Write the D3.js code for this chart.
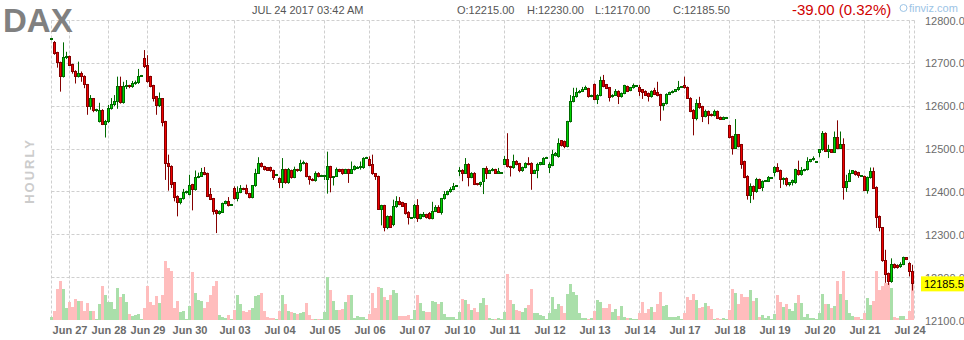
<!DOCTYPE html>
<html><head><meta charset="utf-8">
<script src="https://cdn.jsdelivr.net/npm/d3@7"></script>
<style>body{margin:0;background:#fff}svg{display:block}text{font-family:"Liberation Sans",Arial,sans-serif}</style>
</head><body><svg id="c" width="964" height="340"></svg>
<script>
const dayLabels = ["Jun 27","Jun 28","Jun 29","Jun 30","Jul 03","Jul 04","Jul 05","Jul 06","Jul 07","Jul 10","Jul 11","Jul 12","Jul 13","Jul 14","Jul 17","Jul 18","Jul 19","Jul 20","Jul 21","Jul 24"];
const dayStarts = [6,19,32,46,61,76,91,106,121,136,151,166,181,196,211,226,241,256,271,286];
const priceTicks = [12800,12700,12600,12500,12400,12300,12200,12100];
const lastPrice = 12185.5;
const header = {date:"JUL 24 2017 03:42 AM", o:"O:12215.00", h:"H:12230.00", l:"L:12170.00", c:"C:12185.50", chg:"-39.00 (0.32%)"};

const opens = [
12756,12748,12725,12702,12669,12714,12716,12697,12682,12669,
12677,12670,12650,12600,12617,12590,12565,12591,12558,12564,
12595,12603,12611,12647,12609,12646,12648,12645,12653,12655,
12670,12712,12696,12669,12648,12622,12601,12617,12564,12467,
12460,12421,12390,12376,12384,12398,12394,12417,12405,12434,
12437,12446,12443,12394,12384,12357,12349,12353,12373,12377,
12369,12408,12384,12399,12408,12408,12396,12387,12414,12444,
12467,12459,12456,12456,12450,12440,12432,12421,12452,12421,
12450,12434,12452,12449,12467,12467,12436,12430,12426,12444,
12437,12437,12428,12459,12433,12437,12452,12452,12444,12452,
12444,12452,12457,12458,12456,12480,12475,12465,12442,12436,
12360,12368,12316,12343,12324,12365,12377,12375,12372,12353,
12339,12340,12369,12338,12343,12347,12349,12338,12355,12364,
12351,12384,12394,12400,12406,12414,12448,12451,12444,12463,
12434,12444,12419,12417,12425,12454,12444,12450,12452,12444,
12444,12465,12475,12459,12456,12472,12466,12449,12457,12467,
12467,12444,12450,12464,12465,12480,12457,12462,12485,12482,
12519,12518,12506,12564,12611,12622,12632,12635,12640,12641,
12623,12651,12616,12625,12659,12650,12643,12622,12626,12635,
12622,12630,12646,12637,12643,12647,12643,12638,12635,12630,
12622,12637,12633,12627,12601,12606,12628,12632,12635,12638,
12645,12648,12644,12619,12591,12572,12607,12599,12576,12588,
12581,12578,12588,12574,12570,12573,12555,12529,12502,12533,
12510,12471,12437,12392,12413,12400,12429,12411,12424,12425,
12432,12446,12458,12450,12428,12432,12417,12421,12421,12450,
12440,12450,12452,12471,12475,12469,12491,12498,12537,12495,
12498,12493,12526,12502,12510,12410,12425,12444,12448,12445,
12437,12436,12404,12433,12448,12411,12343,12316,12240,12210,
12190,12231,12229,12225,12231,12246,12234,12215];
const highs = [
12759,12752,12727,12704,12749,12727,12718,12699,12684,12704,
12681,12672,12652,12626,12619,12594,12608,12593,12568,12603,
12619,12626,12669,12669,12657,12661,12650,12659,12660,12687,
12673,12731,12719,12671,12650,12624,12632,12619,12566,12487,
12462,12423,12392,12386,12407,12403,12440,12419,12450,12445,
12456,12458,12445,12409,12386,12359,12357,12375,12380,12388,
12372,12413,12413,12416,12410,12417,12398,12416,12454,12481,
12469,12461,12458,12459,12452,12442,12434,12479,12454,12456,
12452,12459,12454,12475,12473,12469,12438,12432,12448,12446,
12440,12440,12494,12461,12437,12457,12454,12454,12454,12454,
12471,12462,12460,12471,12481,12482,12483,12487,12444,12438,
12370,12370,12345,12345,12382,12390,12388,12377,12374,12355,
12341,12372,12383,12349,12353,12349,12353,12377,12369,12369,
12386,12402,12403,12411,12421,12416,12458,12453,12479,12467,
12446,12446,12421,12424,12456,12460,12452,12456,12454,12456,
12446,12484,12537,12461,12487,12474,12468,12459,12469,12481,
12469,12452,12468,12470,12481,12482,12469,12498,12493,12525,
12521,12520,12566,12626,12643,12643,12638,12645,12648,12643,
12627,12653,12628,12669,12673,12652,12645,12628,12640,12637,
12632,12650,12648,12645,12653,12649,12650,12640,12637,12632,
12637,12643,12657,12629,12608,12630,12634,12637,12640,12659,
12647,12669,12646,12621,12593,12616,12622,12601,12592,12590,
12583,12592,12590,12576,12576,12575,12557,12531,12570,12535,
12512,12473,12439,12420,12415,12433,12431,12427,12427,12437,
12434,12460,12467,12452,12434,12434,12423,12429,12454,12473,
12458,12454,12481,12477,12483,12471,12500,12542,12539,12510,
12500,12541,12567,12541,12525,12440,12452,12451,12450,12447,
12439,12438,12436,12457,12457,12413,12345,12318,12265,12212,
12245,12233,12231,12236,12249,12248,12236,12230];
const lows = [
12754,12720,12690,12634,12667,12710,12694,12676,12653,12667,
12657,12642,12580,12592,12586,12587,12562,12556,12527,12561,
12592,12600,12594,12606,12606,12640,12642,12643,12650,12652,
12669,12689,12655,12644,12611,12580,12598,12553,12428,12403,
12409,12378,12343,12371,12382,12396,12392,12357,12403,12432,
12435,12439,12388,12381,12347,12304,12347,12351,12371,12366,
12368,12382,12378,12397,12404,12394,12385,12385,12412,12442,
12457,12450,12449,12447,12428,12439,12409,12409,12419,12419,
12431,12432,12447,12447,12464,12434,12417,12425,12424,12434,
12436,12428,12396,12399,12415,12435,12446,12440,12442,12421,
12442,12450,12455,12452,12454,12479,12460,12440,12428,12358,
12322,12308,12313,12316,12320,12363,12369,12365,12347,12324,
12338,12338,12330,12336,12341,12338,12336,12336,12353,12351,
12347,12382,12392,12398,12404,12413,12437,12425,12442,12413,
12432,12416,12415,12412,12395,12430,12442,12448,12442,12442,
12443,12463,12457,12436,12454,12462,12446,12447,12455,12462,
12405,12442,12432,12462,12463,12479,12444,12460,12483,12480,
12506,12502,12504,12562,12609,12620,12630,12633,12638,12620,
12621,12614,12605,12623,12644,12640,12611,12620,12624,12605,
12620,12628,12633,12635,12641,12646,12624,12617,12624,12611,
12620,12626,12623,12566,12590,12604,12626,12630,12633,12636,
12644,12641,12617,12586,12532,12567,12594,12563,12574,12558,
12576,12576,12570,12568,12568,12572,12525,12487,12500,12504,
12454,12432,12382,12374,12382,12398,12407,12402,12423,12423,
12431,12436,12446,12409,12417,12413,12413,12415,12419,12438,
12438,12448,12450,12469,12473,12468,12481,12496,12493,12479,
12491,12491,12500,12500,12382,12400,12423,12442,12438,12433,
12436,12402,12396,12431,12407,12316,12308,12237,12188,12183,
12188,12221,12221,12223,12229,12241,12203,12170];
const closes = [
12758,12723,12702,12669,12714,12716,12696,12681,12669,12677,
12669,12650,12600,12617,12590,12592,12591,12558,12564,12595,
12603,12611,12647,12609,12647,12648,12645,12653,12656,12669,
12672,12692,12657,12646,12619,12601,12617,12563,12466,12460,
12417,12388,12376,12384,12398,12401,12415,12405,12434,12437,
12446,12441,12390,12383,12355,12349,12355,12373,12377,12368,
12371,12384,12399,12408,12406,12396,12387,12414,12444,12467,
12459,12452,12451,12449,12434,12441,12421,12452,12421,12452,
12434,12452,12449,12467,12468,12436,12430,12427,12444,12436,
12438,12439,12459,12433,12437,12452,12447,12444,12452,12444,
12452,12459,12458,12460,12477,12481,12462,12442,12436,12360,
12368,12316,12343,12318,12365,12377,12371,12367,12349,12340,
12340,12369,12338,12347,12347,12340,12338,12355,12364,12353,
12384,12394,12400,12406,12413,12415,12450,12444,12463,12434,
12444,12418,12417,12421,12454,12444,12450,12452,12444,12447,
12445,12475,12459,12456,12471,12464,12449,12457,12467,12464,
12444,12450,12464,12468,12477,12481,12465,12487,12490,12513,
12508,12506,12564,12611,12622,12632,12635,12640,12643,12622,
12625,12616,12625,12659,12646,12642,12620,12626,12635,12622,
12630,12648,12635,12643,12648,12648,12634,12632,12626,12622,
12635,12628,12625,12601,12606,12628,12632,12635,12638,12643,
12646,12643,12619,12588,12572,12606,12596,12576,12588,12578,
12578,12588,12572,12570,12573,12574,12527,12502,12533,12506,
12465,12434,12392,12413,12400,12429,12409,12425,12426,12433,
12433,12458,12448,12428,12432,12417,12421,12427,12452,12440,
12450,12452,12471,12475,12479,12470,12498,12537,12495,12498,
12493,12526,12502,12510,12410,12425,12444,12449,12440,12438,
12438,12404,12433,12448,12409,12341,12316,12239,12208,12190,
12231,12223,12223,12231,12246,12243,12215,12185.5];
// hourly volume, thousands of contracts
const volumes = [
3,9,31,39,31,12,18,13,21,19,
19,9,17,9,9,1,16,34,25,18,
18,11,32,23,26,18,6,4,5,6,
1,12,34,18,15,24,17,25,59,52,
49,12,19,8,9,1,14,48,27,20,
19,12,18,25,34,39,5,3,2,5,
1,10,25,16,9,8,10,12,24,25,
27,9,3,2,2,1,9,25,16,9,
8,7,6,7,8,17,5,1,1,1,
1,8,43,30,19,10,10,11,18,25,
25,2,4,3,3,1,6,27,12,33,
32,23,20,25,30,27,4,4,4,5,
1,10,25,17,9,8,8,19,18,16,
18,6,3,3,3,1,8,21,20,16,
10,12,8,17,22,15,2,1,1,2,
1,8,46,20,16,10,9,8,12,15,
31,7,7,5,4,1,7,23,11,16,
14,7,26,36,28,25,7,2,2,1,
2,9,20,18,12,12,16,8,11,4,
14,3,2,2,1,1,7,18,7,11,
13,8,16,28,14,15,3,3,3,4,
1,7,23,20,26,20,12,13,17,14,
11,1,2,1,2,1,10,31,27,16,
26,23,23,30,19,22,3,5,2,4,
1,6,25,18,13,16,11,9,17,25,
17,3,6,2,2,1,7,26,16,16,
12,14,39,26,49,20,7,4,3,3,
1,7,22,15,19,49,30,34,37,37,
32,3,2,4,4,1,9,47];

const candles = opens.map((o,i)=>({i, o, h:highs[i], l:lows[i], c:closes[i], v:volumes[i]}));

const svg = d3.select("#c");
const FONT = '"Liberation Sans",Arial,sans-serif';
const x = d3.scaleLinear().domain([0,286]).range([51.5,909.5]);
const y = d3.scaleLinear().domain([12100,12800]).range([320.5,20.5]);
const yv = d3.scaleLinear().domain([0,60]).range([320,260]);
const plotL = 51.5, plotR = 914.5, plotT = 20.5, plotB = 320;
const snap = v => Math.round(v - 0.5) + 0.5;

// grid
const grid = svg.append("g").attr("stroke","#cfcfcf").attr("stroke-width",1).attr("stroke-dasharray","3,2").attr("fill","none");
priceTicks.filter(t=>t>12100).forEach(t=>{
  grid.append("line").attr("x1",plotL).attr("x2",plotR).attr("y1",snap(y(t))).attr("y2",snap(y(t)));
});
[0, ...dayStarts].forEach(d=>{
  grid.append("line").attr("x1",x(d)).attr("x2",x(d)).attr("y1",plotT).attr("y2",plotB);
});
grid.append("line").attr("x1",plotR).attr("x2",plotR).attr("y1",plotT).attr("y2",plotB);

// volume
svg.append("g").selectAll("rect").data(candles).join("rect")
  .attr("x", d=>x(d.i)-1.5).attr("width",3)
  .attr("y", d=>yv(d.v)).attr("height", d=>plotB - yv(d.v))
  .attr("fill", d=> d.c>=d.o ? "#aadfaa" : "#ffbdbd");

// candles
const cg = svg.append("g");
cg.selectAll("line").data(candles).join("line")
  .attr("x1",d=>x(d.i)).attr("x2",d=>x(d.i))
  .attr("y1",d=>y(d.h)).attr("y2",d=>y(d.l))
  .attr("stroke",d=> d.c>=d.o ? "#006a00" : "#850000").attr("stroke-width",1);
cg.selectAll("rect").data(candles).join("rect")
  .attr("x",d=>x(d.i)-1).attr("width",2)
  .attr("y",d=>snap(y(Math.max(d.o,d.c))))
  .attr("height",d=>Math.max(1, snap(y(Math.min(d.o,d.c))) - snap(y(Math.max(d.o,d.c)))))
  .attr("fill",d=> d.c>=d.o ? "#00d400" : "#f00000")
  .attr("stroke",d=> d.c>=d.o ? "#006a00" : "#850000").attr("stroke-width",1);

// axes
const xAxis = d3.axisBottom(x).tickValues(dayStarts).tickSize(0).tickPadding(4)
  .tickFormat((d,i)=>dayLabels[i]);
const gx = svg.append("g").attr("transform","translate(0,322)").call(xAxis);
gx.select(".domain").remove();
gx.selectAll("text").attr("font-family",FONT).attr("font-size",11).attr("font-weight","bold").attr("fill","#6b6b6b");

const yAxis = d3.axisRight(y).tickValues(priceTicks).tickSize(0).tickPadding(3).tickFormat(d3.format(".2f"));
const gy = svg.append("g").attr("transform","translate(922,0)").call(yAxis);
gy.select(".domain").remove();
gy.selectAll("text").attr("font-family",FONT).attr("font-size",11).attr("fill","#6b6b6b");

// last price label
const ly = y(lastPrice);
svg.append("rect").attr("x",921).attr("y",ly-7.5).attr("width",43).attr("height",15).attr("fill","#ffff00");
svg.append("text").attr("x",924).attr("y",ly+4).attr("font-family",FONT).attr("font-size",11).attr("fill","#000").text(d3.format(".1f")(lastPrice));

// header
svg.append("text").attr("x",3).attr("y",32).attr("font-family",FONT).attr("font-size",33).attr("font-weight","bold").attr("fill","#808080").text("DAX");
const ht = (tx,xx,opts={}) => svg.append("text").attr("x",xx).attr("y",opts.y||14).attr("font-family",FONT)
  .attr("font-size",opts.size||11).attr("fill",opts.fill||"#555").text(tx);
ht(header.date,252);
ht(header.o,457);
ht(header.h,527);
ht(header.l,595);
ht(header.c,673);
ht(header.chg,792,{size:15,fill:"#d00000",y:15});
svg.append("circle").attr("cx",903.5).attr("cy",8).attr("r",3.5).attr("fill","none").attr("stroke","#9cc4e6").attr("stroke-width",1);
ht("finviz.com",909,{fill:"#9cc4e6",y:12});

// side label
svg.append("text").attr("transform","translate(34,171) rotate(-90)").attr("text-anchor","middle")
  .attr("font-family",FONT).attr("font-size",13).attr("font-weight","bold").attr("letter-spacing","2px")
  .attr("fill","#cccccc").text("HOURLY");
</script></body></html>
